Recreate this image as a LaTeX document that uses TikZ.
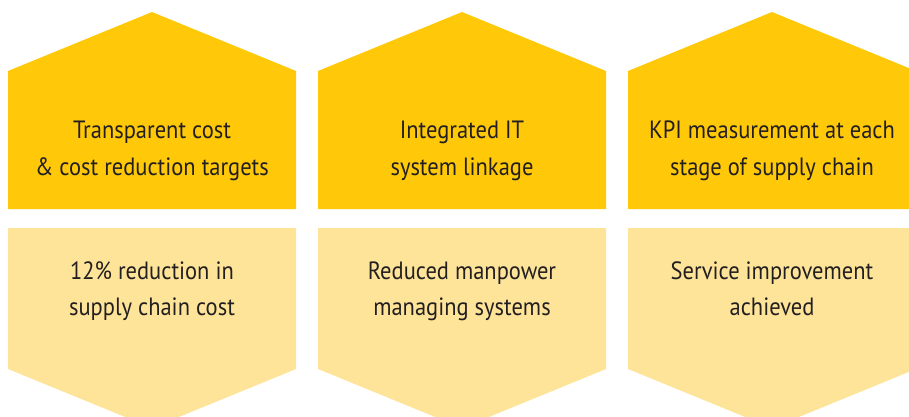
\documentclass[tikz,border=0pt]{standalone}
\usepackage{fontspec}
\setmainfont[FakeStretch=0.9]{PT Sans}
\usepackage{tikz}
\usetikzlibrary{positioning}
\definecolor{kpiyellow}{RGB}{255,201,10}
\definecolor{kpilightyellow}{RGB}{254,228,153}
\definecolor{kpitext}{RGB}{35,31,32}
\tikzstyle{boxtext} = [align=center, anchor=base, text=kpitext, inner sep=0pt,
  font=\fontsize{25}{36}\selectfont]
\tikzstyle{topbox} = [fill=kpiyellow]
\tikzstyle{botbox} = [fill=kpilightyellow]

\begin{document}
\begin{tikzpicture}[x=1pt, y=-1pt]
\useasboundingbox (0,0) rectangle (909,417);
% house shapes on top, arrow shapes below
\foreach \l in {8,318,628} {
  \fill[topbox] (\l,209) -- (\l,71) -- (\l+144,12) -- (\l+288,71) -- (\l+288,209) -- cycle;
  \fill[botbox] (\l,228) -- (\l+288,228) -- (\l+288,369) -- (\l+144,428) -- (\l,369) -- cycle;
}
% what was done
\node[boxtext] (cost) at (152,175) {Transparent cost\\\& cost reduction targets};
\node[boxtext] (it) at (462,175) {Integrated IT\\system linkage};
\node[boxtext] (kpi) at (772,175) {KPI measurement at each\\stage of supply chain};
% what it gave
\node[boxtext] (saving) at (152,315) {12\% reduction in\\supply chain cost};
\node[boxtext] (manpower) at (462,315) {Reduced manpower\\managing systems};
\node[boxtext] (service) at (772,315) {Service improvement\\achieved};
\end{tikzpicture}
\end{document}
